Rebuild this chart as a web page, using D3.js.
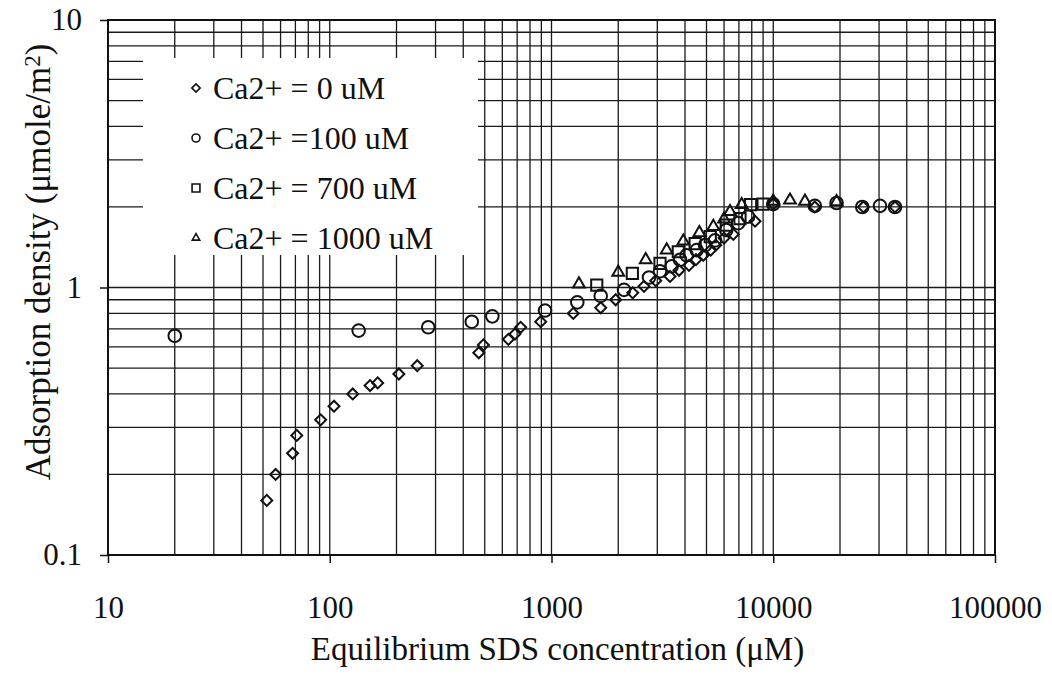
<!DOCTYPE html>
<html>
<head>
<meta charset="utf-8">
<script src="https://cdn.jsdelivr.net/npm/d3@7"></script>
<style>
  body { margin: 0; background: #fff; }
  svg text { font-family: "Liberation Serif", "DejaVu Serif", serif !important; fill: #111; }
</style>
</head>
<body>
<div id="chart"></div>
<script>
// values
var ca0_x = [52, 57, 68, 71, 91, 104.5, 127, 152, 164.5, 205, 248, 470, 493, 639, 684, 726, 894, 1254, 1667, 1948, 2324, 2613, 2951, 3423, 3758, 4169, 4483, 4836, 5224, 5502, 5998, 6603, 8276, 10000, 15400, 25500, 35400]
var ca0_y = [0.16, 0.2, 0.24, 0.28, 0.32, 0.36, 0.40, 0.43, 0.44, 0.475, 0.51, 0.57, 0.61, 0.64, 0.67, 0.71, 0.745, 0.80, 0.84, 0.90, 0.955, 1.01, 1.06, 1.10, 1.16, 1.21, 1.27, 1.32, 1.38, 1.44, 1.53, 1.58, 1.77, 2.05, 2.0, 2.0, 2.0]

var ca100_x = [20, 135, 278, 437, 541, 935, 1307, 1667, 2123, 2753, 3085, 3484, 3800, 4070, 4515, 4930, 5460, 6140, 6950, 7700, 10000, 15400, 19300, 25200, 30300, 35400]
var ca100_y = [0.66, 0.69, 0.71, 0.745, 0.78, 0.82, 0.88, 0.93, 0.98, 1.09, 1.15, 1.20, 1.27, 1.32, 1.38, 1.44, 1.50, 1.64, 1.74, 1.84, 2.05, 2.02, 2.07, 2.0, 2.02, 2.0]

var ca700_x = [1600, 2315, 3085, 3731, 4445, 5200, 6140, 7080, 7900, 9000]
var ca700_y = [1.02, 1.13, 1.23, 1.36, 1.46, 1.55, 1.71, 1.81, 2.04, 2.05]

var ca1000_x = [1330, 2000, 2660, 3307, 3930, 4642, 5367, 5998, 6383, 7206, 10000, 11900, 13900, 19300]
var ca1000_y = [1.03, 1.14, 1.27, 1.38, 1.49, 1.6, 1.69, 1.8, 1.92, 2.04, 2.1, 2.12, 2.1, 2.09]

var legend_labels = ["Ca2+ = 0 uM", "Ca2+ =100 uM", "Ca2+ = 700 uM", "Ca2+ = 1000 uM"]
var x_ticks = [10, 100, 1000, 10000, 100000]
var y_ticks = [0.1, 1, 10]
var x_label = "Equilibrium SDS concentration (\u03BCM)"

var W = 1052, H = 679
var plot = {left: 108, right: 995, top: 20, bottom: 555}
var serif = "'Liberation Serif', 'DejaVu Serif', serif"

var svg = d3.select("#chart").append("svg")
    .attr("width", W)
    .attr("height", H)
    .attr("font-family", serif)

var xScale = d3.scaleLog().domain([10, 100000]).range([plot.left, plot.right])
var yScale = d3.scaleLog().domain([0.1, 10]).range([plot.bottom, plot.top])

var g = svg.append("g")

// full log grid (majors + 2..9 minors)
g.append("g").selectAll("line")
  .data(xScale.ticks())
  .enter().append("line")
    .attr("x1", d => xScale(d)).attr("x2", d => xScale(d))
    .attr("y1", plot.top).attr("y2", plot.bottom)
    .attr("stroke", "#1a1a1a").attr("stroke-width", 1.3)

g.append("g").selectAll("line")
  .data(yScale.ticks())
  .enter().append("line")
    .attr("y1", d => yScale(d)).attr("y2", d => yScale(d))
    .attr("x1", plot.left).attr("x2", plot.right)
    .attr("stroke", "#1a1a1a").attr("stroke-width", 1.3)

// frame
g.append("rect")
  .attr("x", plot.left).attr("y", plot.top)
  .attr("width", plot.right - plot.left).attr("height", plot.bottom - plot.top)
  .attr("fill", "none").attr("stroke", "#111").attr("stroke-width", 2)

// axes
var x_axis = g.append("g")
  .attr("transform", "translate(0," + plot.bottom + ")")
  .call(d3.axisBottom(xScale).tickValues(x_ticks).tickSize(8).tickPadding(33)
        .tickFormat(d3.format("d")))
x_axis.select(".domain").remove()

var y_axis = g.append("g")
  .attr("transform", "translate(" + plot.left + ",0)")
  .call(d3.axisLeft(yScale).tickValues(y_ticks).tickSize(8).tickPadding(18)
        .tickFormat(d => d < 1 ? "0.1" : d3.format("d")(d)))
y_axis.select(".domain").remove()

g.selectAll(".tick text").attr("font-family", serif).style("font-size", "31px")
g.selectAll(".tick line").attr("stroke", "#111").attr("stroke-width", 1.5)

g.append("text")
  .attr("x", (plot.left + plot.right) / 2 + 6)
  .attr("y", 660)
  .attr("text-anchor", "middle")
  .style("font-size", "33px")
  .text(x_label)

var yl = g.append("text")
  .attr("transform", "translate(50,262)rotate(-90)")
  .attr("text-anchor", "middle")
  .style("font-size", "35px")
yl.append("tspan").text("Adsorption density (\u03BCmole/m")
yl.append("tspan").attr("dy", "-0.45em").style("font-size", "23px").text("2")
yl.append("tspan").attr("dy", "0.3em").text(")")

// series
var series = [
  {x: ca0_x, y: ca0_y, sym: d3.symbolSquare, size: 60, rot: 45, lsize: 34},
  {x: ca100_x, y: ca100_y, sym: d3.symbolCircle, size: 125, rot: 0, lsize: 50},
  {x: ca700_x, y: ca700_y, sym: d3.symbolSquare, size: 125, rot: 0, lsize: 62},
  {x: ca1000_x, y: ca1000_y, sym: d3.symbolTriangle, size: 60, rot: 0, lsize: 24}
]

var pts = g.append("g")
series.forEach(s => {
  pts.append("g").selectAll("path")
    .data(s.x.map((v, i) => [v, s.y[i]]))
    .enter().append("path")
      .attr("d", d3.symbol().type(s.sym).size(s.size))
      .attr("transform", d => "translate(" + xScale(d[0]) + "," + yScale(d[1]) + ")rotate(" + s.rot + ")")
      .attr("fill", "none")
      .attr("stroke", "#111")
      .attr("stroke-width", 2)
})

// legend box, white, hides the grid under it
var legend = g.append("g")
legend.append("rect")
  .attr("x", 143).attr("y", 58)
  .attr("width", 335).attr("height", 197)
  .attr("fill", "#fff")

var rows = legend.selectAll(".row")
  .data(legend_labels)
  .enter().append("g")
  .attr("class", "row")
  .attr("transform", (d, i) => "translate(196," + (88 + i * 50) + ")")

rows.append("path")
  .attr("d", (d, i) => d3.symbol().type(series[i].sym).size(series[i].lsize)())
  .attr("transform", (d, i) => "rotate(" + series[i].rot + ")")
  .attr("fill", "none").attr("stroke", "#111").attr("stroke-width", 1.6)

rows.append("text")
  .attr("x", 17)
  .attr("dy", "0.35em")
  .style("font-size", "32px")
  .text(d => d)
</script>
</body>
</html>
